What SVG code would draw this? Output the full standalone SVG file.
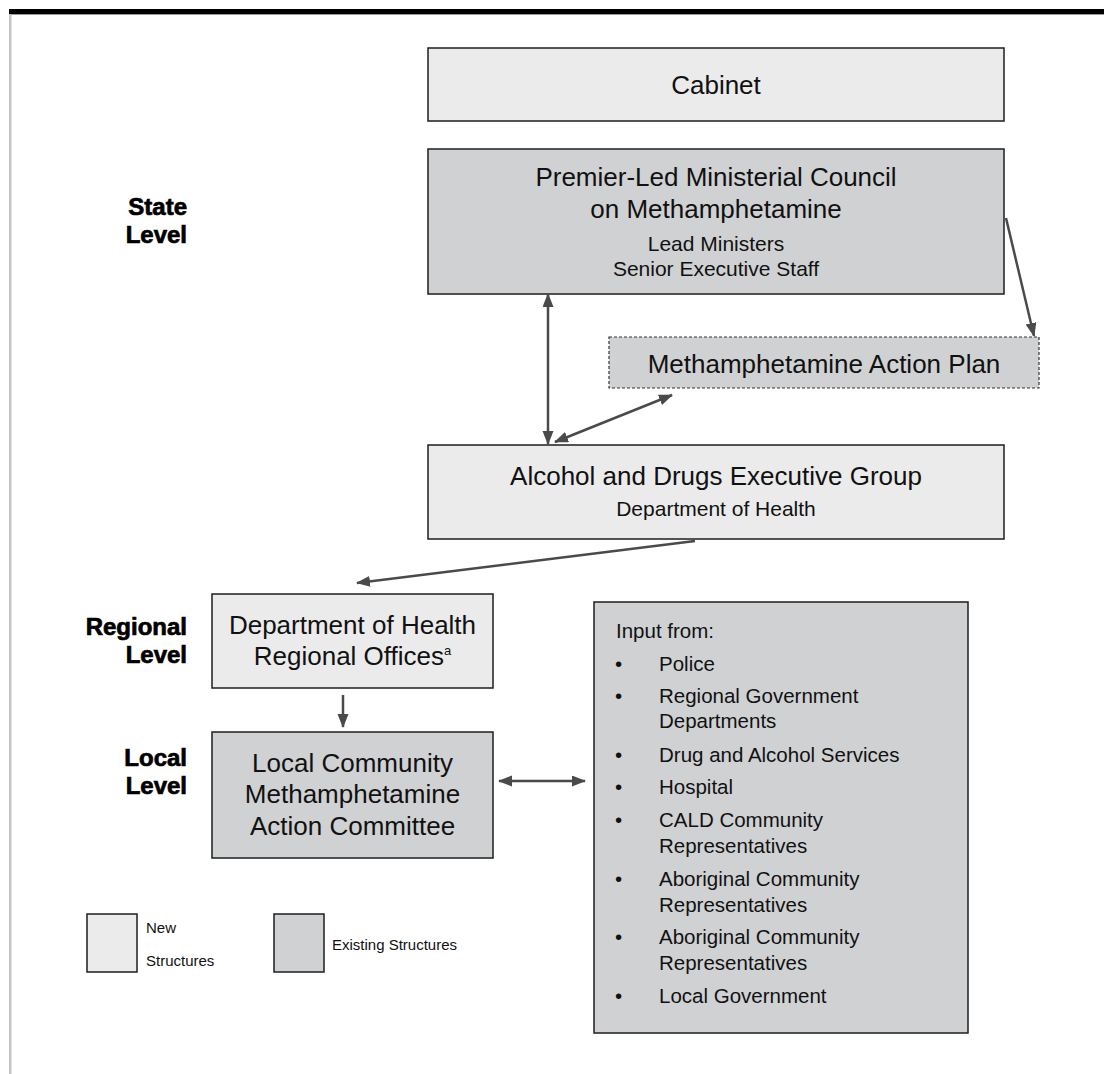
<svg xmlns="http://www.w3.org/2000/svg" width="1104" height="1074" viewBox="0 0 1104 1074">
<style>
text{font-family:"Liberation Sans",Arial,sans-serif;fill:#111}
.main{font-size:26px;text-anchor:middle}
.sub{font-size:21px;text-anchor:middle}
.lvl{font-size:24px;font-weight:bold;text-anchor:end;fill:#000;stroke:#000;stroke-width:0.7}
.lst{font-size:20.5px}
.leg{font-size:15px}
.new{fill:#ebebeb;stroke:#1e1e1e;stroke-width:1.5}
.old{fill:#d0d1d3;stroke:#1e1e1e;stroke-width:1.5}
.plan{fill:#d0d1d3;stroke:#333;stroke-width:1.2;stroke-dasharray:3 2}
.con{stroke:#4a4a4a;stroke-width:2.5;fill:none}
</style>
<defs>
<marker id="ah" markerUnits="userSpaceOnUse" markerWidth="15" markerHeight="12" refX="13" refY="5.5" orient="auto-start-reverse" viewBox="0 0 15 12">
<path d="M0,0 L14,5.5 L0,11 z" fill="#4a4a4a"/>
</marker>
</defs>
<rect x="0" y="0" width="1104" height="1074" fill="#fff"/>
<g id="frame">
<rect x="9" y="9" width="1095" height="5" fill="#000"/>
<rect x="9" y="14" width="1095" height="1" fill="#999"/>
<rect x="9" y="14" width="2.5" height="1060" fill="#c4c4c4"/>
</g>
<g id="labels">
<text class="lvl" x="187" y="215">State</text>
<text class="lvl" x="187" y="243">Level</text>
<text class="lvl" x="187" y="635">Regional</text>
<text class="lvl" x="187" y="663">Level</text>
<text class="lvl" x="187" y="766">Local</text>
<text class="lvl" x="187" y="794">Level</text>
</g>
<g id="cabinet">
<rect class="new" x="428" y="48" width="576" height="73"/>
<text class="main" x="716" y="94">Cabinet</text>
</g>
<g id="premier">
<rect class="old" x="428" y="149" width="576" height="145"/>
<text class="main" x="716" y="186">Premier-Led Ministerial Council</text>
<text class="main" x="716" y="218">on Methamphetamine</text>
<text class="sub" x="716" y="251">Lead Ministers</text>
<text class="sub" x="716" y="276">Senior Executive Staff</text>
</g>
<g id="actionplan">
<rect class="plan" x="609" y="337" width="430" height="51"/>
<text class="main" x="824" y="373">Methamphetamine Action Plan</text>
</g>
<g id="alcohol">
<rect class="new" x="428" y="445" width="576" height="94"/>
<text class="main" x="716" y="485">Alcohol and Drugs Executive Group</text>
<text class="sub" x="716" y="516">Department of Health</text>
</g>
<g id="regional">
<rect class="new" x="212" y="594" width="281" height="94"/>
<text class="main" x="352.5" y="634">Department of Health</text>
<text class="main" x="352.5" y="665">Regional Offices<tspan font-size="13" dy="-10">a</tspan></text>
</g>
<g id="local">
<rect class="old" x="212" y="732" width="281" height="126"/>
<text class="main" x="352.5" y="772">Local Community</text>
<text class="main" x="352.5" y="803">Methamphetamine</text>
<text class="main" x="352.5" y="835">Action Committee</text>
</g>
<g id="input">
<rect class="old" x="594" y="602" width="374" height="431"/>
<text class="lst" x="616" y="638">Input from:</text>
<g class="lst">
<text class="lst" x="615" y="671">•</text><text class="lst" x="659" y="671">Police</text>
<text class="lst" x="615" y="703">•</text><text class="lst" x="659" y="703">Regional Government</text>
<text class="lst" x="659" y="728">Departments</text>
<text class="lst" x="615" y="762">•</text><text class="lst" x="659" y="762">Drug and Alcohol Services</text>
<text class="lst" x="615" y="794">•</text><text class="lst" x="659" y="794">Hospital</text>
<text class="lst" x="615" y="827">•</text><text class="lst" x="659" y="827">CALD Community</text>
<text class="lst" x="659" y="853">Representatives</text>
<text class="lst" x="615" y="886">•</text><text class="lst" x="659" y="886">Aboriginal Community</text>
<text class="lst" x="659" y="912">Representatives</text>
<text class="lst" x="615" y="944">•</text><text class="lst" x="659" y="944">Aboriginal Community</text>
<text class="lst" x="659" y="970">Representatives</text>
<text class="lst" x="615" y="1003">•</text><text class="lst" x="659" y="1003">Local Government</text>
</g>
</g>
<g id="legend-new">
<rect class="new" x="87" y="914" width="50" height="58"/>
<text class="leg" x="146" y="933">New</text>
<text class="leg" x="146" y="966">Structures</text>
</g>
<g id="legend-existing">
<rect class="old" x="274" y="914" width="50" height="58"/>
<text class="leg" x="332" y="950">Existing Structures</text>
</g>
<g id="connectors">
<line class="con" x1="1006" y1="218" x2="1034" y2="336" marker-end="url(#ah)"/>
<line class="con" x1="548" y1="294" x2="548" y2="444" marker-start="url(#ah)" marker-end="url(#ah)"/>
<line class="con" x1="555" y1="442" x2="672" y2="395" marker-start="url(#ah)" marker-end="url(#ah)"/>
<line class="con" x1="695" y1="541" x2="357" y2="583" marker-end="url(#ah)"/>
<line class="con" x1="343" y1="695" x2="343" y2="727" marker-end="url(#ah)"/>
<line class="con" x1="499" y1="781" x2="585" y2="781" marker-start="url(#ah)" marker-end="url(#ah)"/>
</g>
</svg>
